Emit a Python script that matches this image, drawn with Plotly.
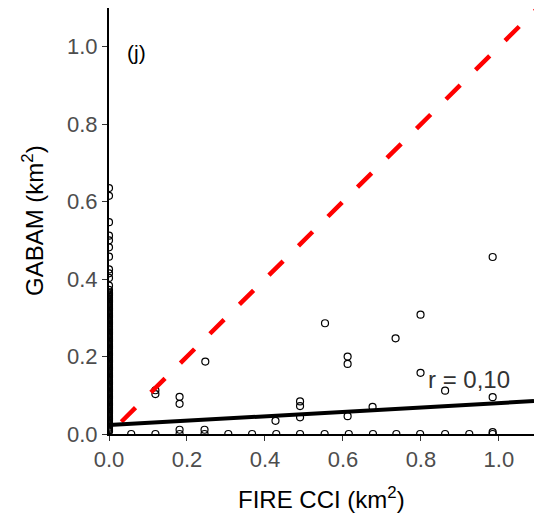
import plotly.graph_objects as go

# ---- data ----
# points with FIRE CCI = 0 (column on the y axis)
zero_col_y = [0.635, 0.615, 0.547, 0.512, 0.500, 0.482, 0.458, 0.425, 0.415, 0.403,
              0.383, 0.372,
              0.366, 0.363, 0.360, 0.357, 0.354, 0.351, 0.348, 0.345, 0.342, 0.339,
              0.336, 0.333, 0.330, 0.327, 0.324, 0.321, 0.318, 0.315, 0.312, 0.309,
              0.306, 0.303, 0.300, 0.297, 0.294, 0.291, 0.288, 0.285, 0.282, 0.279,
              0.276, 0.273, 0.270,
              0.268, 0.265, 0.262, 0.259, 0.256, 0.253, 0.250, 0.247, 0.244, 0.241,
              0.238, 0.235, 0.232, 0.229, 0.226, 0.223, 0.220, 0.217, 0.214, 0.211,
              0.208, 0.205, 0.202, 0.199, 0.196, 0.193, 0.190, 0.187, 0.184, 0.181,
              0.178, 0.175, 0.172, 0.169, 0.166, 0.163, 0.160, 0.157, 0.154, 0.151,
              0.148, 0.145, 0.142, 0.139, 0.136, 0.133, 0.130, 0.127, 0.124, 0.121,
              0.118, 0.115, 0.112, 0.109, 0.106, 0.103, 0.100, 0.097, 0.094, 0.091,
              0.088, 0.085, 0.082, 0.079, 0.076, 0.073, 0.070, 0.067, 0.064, 0.061,
              0.058, 0.055, 0.052, 0.049, 0.046, 0.043, 0.040, 0.037, 0.034, 0.031,
              0.028, 0.025, 0.022, 0.019, 0.016, 0.013, 0.010, 0.007]

# points with GABAM = 0 (row on the x axis)
zero_row_x = [0.057, 0.119, 0.181, 0.245, 0.306, 0.367, 0.429, 0.490, 0.553,
              0.615, 0.677, 0.737, 0.798, 0.862, 0.924, 0.984]

# remaining points
fire_cci = [0.181, 0.245, 0.984,
            0.119, 0.119, 0.181, 0.181, 0.247, 0.427, 0.490, 0.490, 0.490,
            0.554, 0.612, 0.612, 0.612, 0.676, 0.735, 0.799, 0.799, 0.862,
            0.984, 0.984]
gabam = [0.011, 0.011, 0.005,
         0.113, 0.103, 0.096, 0.078, 0.187, 0.034, 0.084, 0.072, 0.043,
         0.286, 0.200, 0.181, 0.046, 0.070, 0.247, 0.308, 0.158, 0.112,
         0.457, 0.095]

# fitted line (GABAM = a + b * FIRE CCI) and the 1:1 reference line
fit_intercept = 0.023
fit_slope = 0.057
fit_x = [0.0, 1.09]
one_to_one = [-0.044, 1.12]

r_label = "r = 0,10"
panel_label = "(j)"
tick_vals = [0.0, 0.2, 0.4, 0.6, 0.8, 1.0]
tick_text = ["0.0", "0.2", "0.4", "0.6", "0.8", "1.0"]

# ---- assemble ----
all_x = [0.0] * len(zero_col_y) + zero_row_x + fire_cci
all_y = zero_col_y + [0.0] * len(zero_row_x) + gabam

FONT = "Liberation Sans, Arial, sans-serif"

fig = go.Figure()
fig.add_trace(go.Scatter(
    x=all_x, y=all_y, mode="markers", cliponaxis=True,
    marker=dict(symbol="circle-open", size=7, color="black", line=dict(width=1.2)),
    showlegend=False, hoverinfo="skip"))
fig.add_trace(go.Scatter(
    x=one_to_one, y=one_to_one, mode="lines",
    line=dict(color="#FF0000", width=4.5, dash="20px,21.6px"),
    showlegend=False, hoverinfo="skip"))
fig.add_trace(go.Scatter(
    x=fit_x, y=[fit_intercept + fit_slope * v for v in fit_x], mode="lines",
    line=dict(color="black", width=4),
    showlegend=False, hoverinfo="skip"))

axis_common = dict(
    tickvals=tick_vals, ticktext=tick_text, ticks="outside", ticklen=5,
    tickwidth=1.3, tickcolor="#333333", showline=True, linecolor="black",
    linewidth=2, showgrid=False, zeroline=False,
    tickfont=dict(family=FONT, size=22, color="#4D4D4D"))

fig.update_layout(
    width=534, height=520,
    margin=dict(l=109, r=0, t=8, b=86, pad=0),
    paper_bgcolor="white", plot_bgcolor="white",
    xaxis=dict(range=[0, 1.09], **axis_common),
    yaxis=dict(range=[0, 1.10], **axis_common),
    annotations=[
        dict(text="FIRE CCI (km<sup>2</sup>)", xref="paper", yref="paper",
             x=0.5, y=0, xanchor="center", yanchor="middle", yshift=-64,
             showarrow=False, font=dict(family=FONT, size=24, color="black")),
        dict(text="GABAM (km<sup>2</sup>)", xref="paper", yref="paper",
             x=0, y=0.5, xanchor="center", yanchor="middle", xshift=-76,
             textangle=-90, showarrow=False,
             font=dict(family=FONT, size=24, color="black")),
        dict(text=r_label, xref="x", yref="y", x=0.813, y=0.142,
             xanchor="left", yanchor="middle", showarrow=False,
             font=dict(family=FONT, size=24, color="#333333")),
        dict(text=panel_label, xref="x", yref="y", x=0.041, y=0.986,
             xanchor="left", yanchor="middle", showarrow=False,
             font=dict(family=FONT, size=21, color="black")),
    ],
)

fig.write_html("out.html", config={"displayModeBar": False},
               post_script="document.body.style.margin='0';")
